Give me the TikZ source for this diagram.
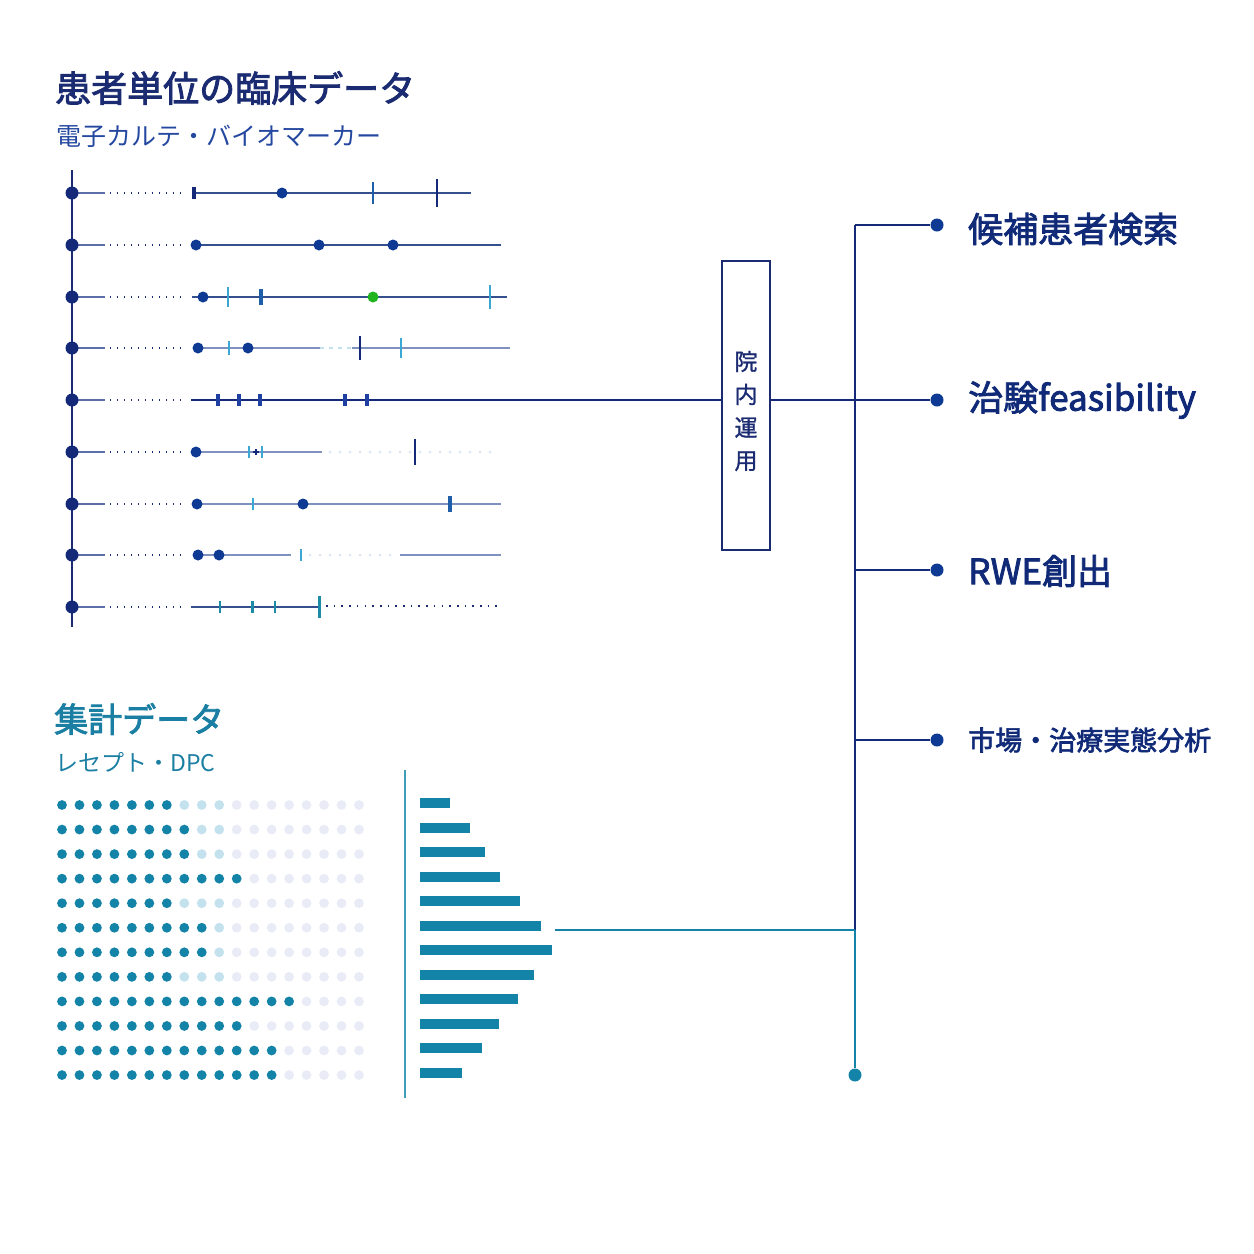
\documentclass[tikz,border=0pt]{standalone}
\usepackage{fontspec}
\setmainfont{Noto Sans CJK JP}
\newfontfamily\medfont[FakeBold=2.4]{Noto Sans CJK JP}
\newfontfamily\boxfont[FakeBold=1.2]{Noto Sans CJK JP}
\definecolor{navy}{HTML}{1B2B72}
\definecolor{navyd}{HTML}{142A78}
\definecolor{bluedot}{HTML}{0E3A94}
\definecolor{linec}{HTML}{34508F}
\definecolor{linel}{HTML}{7F92BF}
\definecolor{leadc}{HTML}{5A6FA8}
\definecolor{lb}{HTML}{3AA8D2}
\definecolor{midb}{HTML}{1F5EA8}
\definecolor{tickb}{HTML}{1E40A0}
\definecolor{tealt}{HTML}{1C8BA6}
\definecolor{greenc}{HTML}{22B41E}
\definecolor{tealc}{HTML}{1384A8}
\definecolor{lightc}{HTML}{C4E1EE}
\definecolor{medc}{HTML}{8FC0D5}
\definecolor{palec}{HTML}{E9ECF6}
\definecolor{faint}{HTML}{DCE4F2}
\definecolor{subb}{HTML}{2448A0}
\definecolor{tealtitle}{HTML}{1A7FA3}
\definecolor{lab}{HTML}{102A78}
\tikzset{
  lead/.style={line width=1.3pt, draw=leadc},
  lead dots/.style={line width=1.4pt, draw=navy, dash pattern=on 1.4pt off 5.6pt},
  tl/.style={line width=1.3pt, draw=linec},
  tll/.style={line width=1.3pt, draw=linel},
  faintdots/.style={line width=3pt, draw=faint, line cap=round, dash pattern=on 0pt off 10pt},
  ev/.style={circle, fill=bluedot, inner sep=0pt, minimum size=11pt},
  axisdot/.style={circle, fill=navyd, inner sep=0pt, minimum size=13pt},
  enddot/.style={circle, fill=bluedot, inner sep=0pt, minimum size=13pt},
  conn/.style={line width=1.5pt, draw=navyd},
  tconn/.style={line width=1.5pt, draw=tealc},
  obox/.style={draw=navy, line width=1.5pt, fill=white, minimum width=48pt, minimum height=289pt, inner sep=0pt},
  boxtext/.style={inner sep=0pt, align=center, font=\boxfont\fontsize{23}{33}\selectfont, text=navy},
  ttl/.style={anchor=west, inner sep=0pt, font=\medfont\fontsize{36}{36}\selectfont, text=navy},
  sub/.style={anchor=west, inner sep=0pt, font=\fontsize{25}{25}\selectfont, text=subb},
  lbl/.style={anchor=west, inner sep=0pt, font=\medfont\fontsize{35}{35}\selectfont, text=lab},
  lbls/.style={anchor=west, inner sep=0pt, font=\medfont\fontsize{27}{27}\selectfont, text=lab},
}
\begin{document}
\begin{tikzpicture}[x=1pt,y=-1pt]
\useasboundingbox (0,0) rectangle (1254,1254);

% titles
\node[ttl] (t1) at (55,88) {患者単位の臨床データ};
\node[sub] (s1) at (56,136) {電子カルテ・バイオマーカー};
\node[ttl, text=tealtitle, font=\medfont\fontsize{34}{34}\selectfont] (t2) at (54,719) {集計データ};
\node[sub, text=tealtitle, font=\fontsize{23}{23}\selectfont] (s2) at (55,762) {レセプト・DPC};

% timeline axis
\draw[line width=1.5pt, draw=navy] (72,170) -- (72,627);
\foreach \y in {193,245,297,348,400,452,504,555,607}{
  \draw[lead] (72,\y) -- (105,\y);
  \draw[lead dots] (110,\y) -- (185,\y);
  \node[axisdot] at (72,\y) {};
}

% row 1
\draw[tl] (193,193) -- (471,193);
\draw[line width=3.5pt, navyd] (194,187) -- (194,199);
\node[ev] at (282,193) {};
\draw[line width=1.8pt, draw=midb] (373,182) -- (373,204);
\draw[line width=2.6pt, draw=navyd] (437,179) -- (437,207);
% row 2
\draw[tl] (196,245) -- (501,245);
\node[ev] at (196,245) {};
\node[ev] at (319,245) {};
\node[ev] at (393,245) {};
% row 3
\draw[tl] (192,297) -- (507,297);
\node[ev] at (203,297) {};
\draw[line width=2pt, draw=lb] (228,287) -- (228,307);
\draw[line width=3.5pt, draw=midb] (261,289) -- (261,305);
\node[ev, fill=greenc] at (373,297) {};
\draw[line width=2pt, draw=lb] (490,285) -- (490,309);
% row 4
\draw[tll] (198,348) -- (320,348);
\draw[line width=1.3pt, draw=lightc, dash pattern=on 4pt off 5pt] (320,348) -- (352,348);
\draw[tll] (352,348) -- (510,348);
\node[ev] at (198,348) {};
\draw[line width=2pt, draw=lb] (229,341) -- (229,355);
\node[ev] at (248,348) {};
\draw[line width=2.5pt, draw=navyd] (360,336) -- (360,360);
\draw[line width=2pt, draw=lb] (401,338) -- (401,358);
% row 6
\draw[tll] (196,452) -- (322,452);
\draw[faintdots] (330,452) -- (492,452);
\node[ev] at (196,452) {};
\draw[line width=2pt, draw=lb] (249,446) -- (249,458);
\draw[line width=2pt, draw=lb] (262,446) -- (262,458);
\draw[line width=1.5pt, draw=navyd] (253,452) -- (259,452) (256,449) -- (256,455);
\draw[line width=2.5pt, draw=navyd] (415,439) -- (415,465);
% row 7
\draw[tll] (197,504) -- (501,504);
\node[ev] at (197,504) {};
\draw[line width=2pt, draw=lb] (253,498) -- (253,510);
\node[ev] at (303,504) {};
\draw[line width=3.5pt, draw=midb] (450,496) -- (450,512);
% row 8
\draw[tll] (198,555) -- (291,555);
\draw[faintdots] (310,555) -- (392,555);
\draw[tll] (400,555) -- (501,555);
\node[ev] at (198,555) {};
\node[ev] at (219,555) {};
\draw[line width=2pt, draw=lb] (301,549) -- (301,561);
% row 9
\draw[tl] (191,607) -- (319,607);
\draw[line width=1.6pt, draw=navy, dash pattern=on 1.6pt off 6.1pt] (326,606) -- (503,606);
\draw[line width=2pt, draw=tealt] (220,601) -- (220,613);
\draw[line width=3pt, draw=tealt] (252,601) -- (252,613);
\draw[line width=2pt, draw=tealt] (275,601) -- (275,613);
\draw[line width=3pt, draw=tealt] (319,596) -- (319,618);

% in-house box and right tree
\node[obox] (box) at (746,405.5) {};
\node[boxtext] (boxlbl) at (746,411) {院\\内\\運\\用};
\coordinate (r5) at (191,400);
\coordinate (vtop) at (855,225);
\coordinate (v2) at (855,400);
\coordinate (v3) at (855,570);
\coordinate (v4) at (855,740);
\coordinate (vmid) at (855,930);
\coordinate (barsout) at (555,930);
\node[enddot] (e1) at (937,225) {};
\node[enddot] (e2) at (937,400) {};
\node[enddot] (e3) at (937,570) {};
\node[enddot] (e4) at (937,740) {};
\node[enddot, fill=tealc] (vbot) at (855,1075) {};

% row 5 (feeds the box)
\draw[conn] (r5) -- (r5 -| box.west);
\draw[line width=2.4pt, draw=navyd] (191,400) -- (380,400);
\foreach \x in {218,239,260,345,367}{
  \draw[line width=4pt, draw=tickb] (\x,394) -- (\x,406);
}
\draw[conn] (e2 -| box.east) -- (e2);
\draw[conn] (vtop) -- (vmid);
\draw[conn] (vtop) -- (e1);
\draw[conn] (v3) -- (e3);
\draw[conn] (v4) -- (e4);
\draw[tconn] (vmid) -- (vbot);
\draw[tconn] (barsout) -- (vmid);

% labels
\node[lbl] (l1) at (968,229) {候補患者検索};
\node[lbl] (l2) at (968,400) {治験feasibility};
\node[lbl] (l3) at (968,571) {RWE創出};
\node[lbls] (l4) at (968,740) {市場・治療実態分析};

% dot matrix
\foreach \r/\d/\l in {1/7/3,2/8/2,3/8/2,4/11/0,5/7/3,6/9/1,7/9/1,8/7/3,9/14/0,10/11/0,11/13/0,12/13/0}{
  \pgfmathtruncatemacro\lend{\d+\l}
  \foreach \c in {1,...,18}{
    \ifnum\c>\lend\relax \def\dc{palec}\else\ifnum\c>\d\relax \def\dc{lightc}\else\def\dc{tealc}\fi\fi
    \fill[\dc] ({62+(\c-1)*17.47},{805+(\r-1)*24.55}) circle (4.9pt);
  }
}

% bars
\draw[line width=1.5pt, draw=tealc!80] (405,770) -- (405,1098);
\foreach \i/\e in {1/450,2/470,3/485,4/500,5/520,6/541,7/552,8/534,9/518,10/499,11/482,12/462}{
  \fill[tealc] (420,{803+(\i-1)*24.5-5}) rectangle (\e,{803+(\i-1)*24.5+5});
}
\end{tikzpicture}
\end{document}
